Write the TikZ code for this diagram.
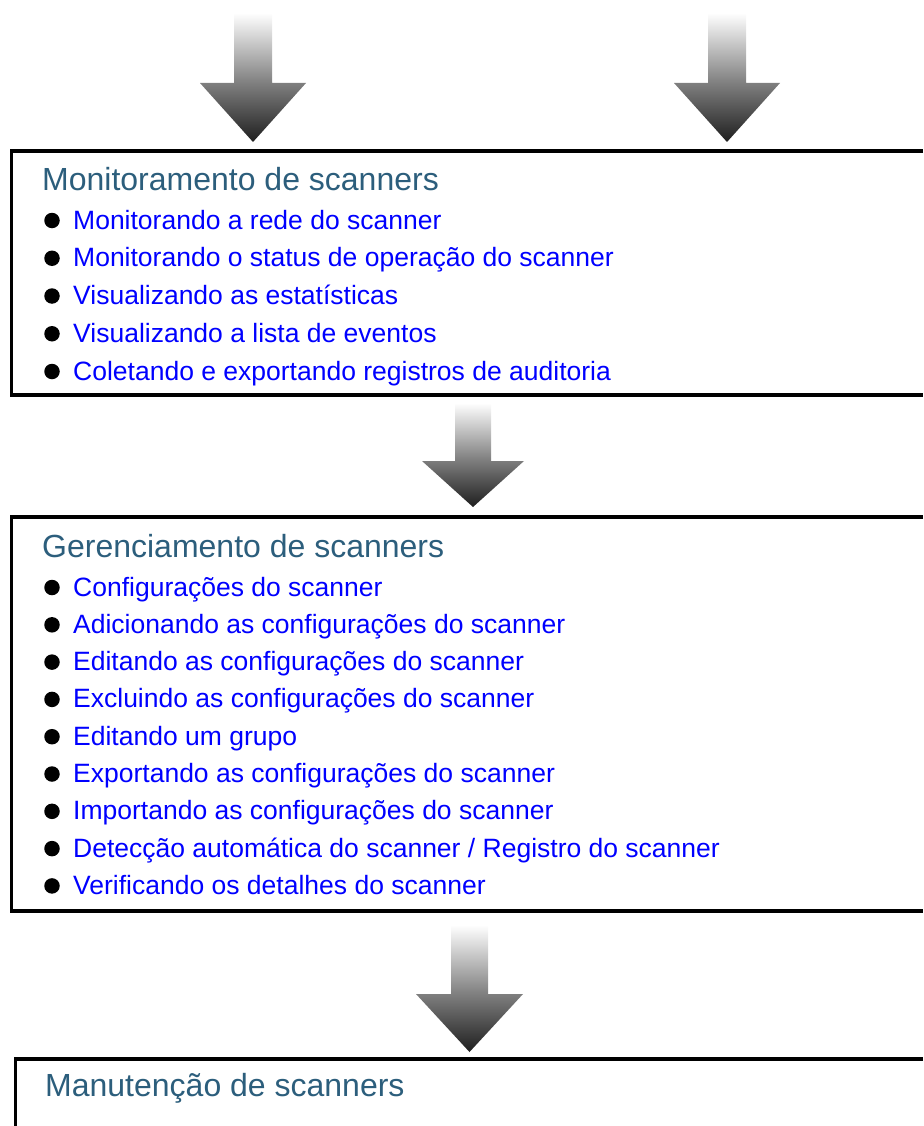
\documentclass[tikz,border=0pt]{standalone}
\usepackage{fontspec}
\setmainfont{Liberation Sans}
\definecolor{titleblue}{RGB}{44,94,124}
\definecolor{linkblue}{RGB}{0,0,255}
\pgfdeclareverticalshading{arrowshade}{100bp}{color(0bp)=(black!88); color(25bp)=(black!88); color(48bp)=(black!50); color(75bp)=(white); color(100bp)=(white)}
% #1 centre x, #2 top y, #3 head base y, #4 tip y, #5 shaft half width, #6 head half width
\newcommand\fatdownarrow[6]{%
  \shade[fatarrow] (#1-#5,#2) -- (#1+#5,#2) -- (#1+#5,#3) -- (#1+#6,#3) -- (#1,#4) -- (#1-#6,#3) -- (#1-#5,#3) -- cycle;}
\begin{document}
\begin{tikzpicture}[x=1pt,y=-1pt,
  boxline/.style={line width=3.2pt, line join=miter, draw=black},
  title/.style={anchor=base west, inner sep=0pt, text=titleblue, font=\fontsize{32}{38}\selectfont},
  item/.style={anchor=base west, inner sep=0pt, text=linkblue, font=\fontsize{26.5}{32}\selectfont},
  dot/.style={circle, fill=black, inner sep=0pt, minimum size=15.5pt},
  fatarrow/.style={shading=arrowshade, draw=none}]
\useasboundingbox (0,0) rectangle (923,1126);

% arrows
\fatdownarrow{253}{13}{83}{142}{19}{53}
\fatdownarrow{727}{13}{83}{142}{19}{53}
\fatdownarrow{473}{403}{461}{507}{18}{51}
\fatdownarrow{469.5}{925}{994}{1052}{18.5}{53.5}

% box 1
\draw[boxline] (923,151) -- (11.5,151) -- (11.5,395) -- (923,395);
\node[title] (t1) at (42,190) {Monitoramento de scanners};
\foreach \t [count=\i from 0] in {
  {Monitorando a rede do scanner},
  {Monitorando o status de operação do scanner},
  {Visualizando as estatísticas},
  {Visualizando a lista de eventos},
  {Coletando e exportando registros de auditoria}}{
  \node[dot] (ma\i) at (52,229+37.75*\i-8.5) {};
  \node[item] (mi\i) at (73,229+37.75*\i) {\t};
}

% box 2
\draw[boxline] (923,517) -- (11.5,517) -- (11.5,911) -- (923,911);
\node[title] (t2) at (42,557) {Gerenciamento de scanners};
\foreach \t [count=\i from 0] in {
  {Configurações do scanner},
  {Adicionando as configurações do scanner},
  {Editando as configurações do scanner},
  {Excluindo as configurações do scanner},
  {Editando um grupo},
  {Exportando as configurações do scanner},
  {Importando as configurações do scanner},
  {Detecção automática do scanner / Registro do scanner},
  {Verificando os detalhes do scanner}}{
  \node[dot] (ga\i) at (52,596+37.3*\i-8.5) {};
  \node[item] (gi\i) at (73,596+37.3*\i) {\t};
}

% box 3
\draw[boxline] (923,1059) -- (15.5,1059) -- (15.5,1130);
\node[title] (t3) at (45,1096.5) {Manutenção de scanners};
\end{tikzpicture}
\end{document}
